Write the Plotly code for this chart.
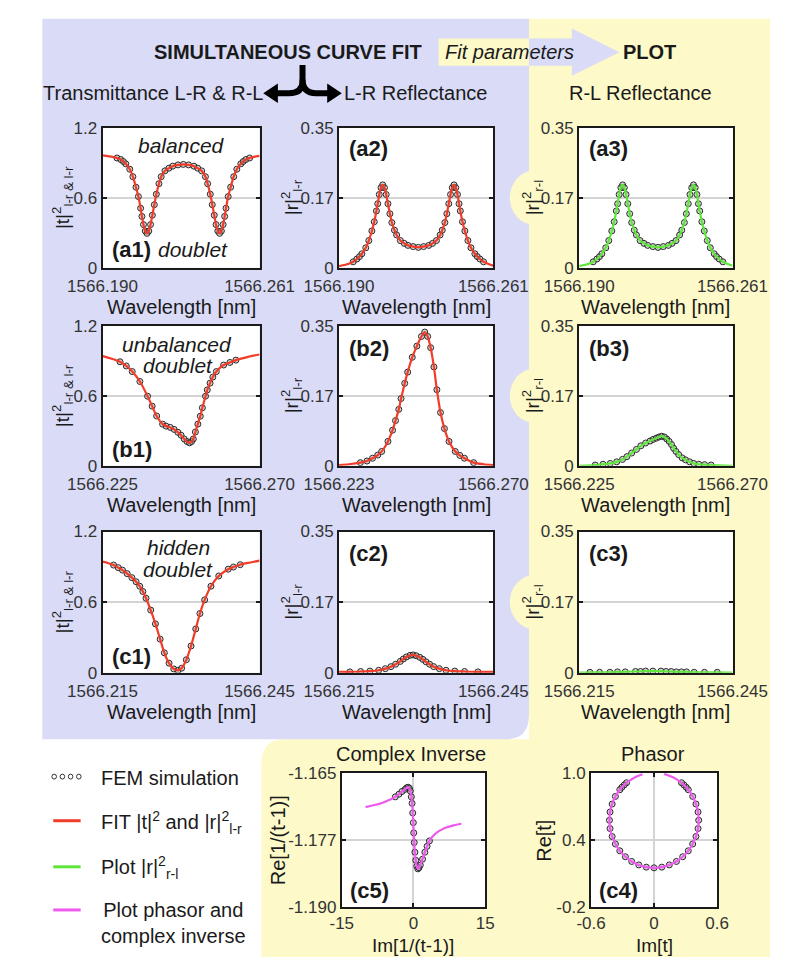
import plotly.graph_objects as go

W, H = 805, 967

# ---------------- data ----------------
# (a) balanced doublet: wavelength [nm], |t|^2, |r|^2 (l-r and r-l identical)
A_WL = [1566.1900, 1566.1945, 1566.1965, 1566.1982, 1566.1994, 1566.2005, 1566.2023, 1566.2037, 1566.2051,
        1566.2062, 1566.2072, 1566.2078, 1566.2085, 1566.2093, 1566.2101, 1566.2109, 1566.2117, 1566.2125,
        1566.2134, 1566.2143, 1566.2155, 1566.2165, 1566.2182, 1566.2200, 1566.2217, 1566.2241, 1566.2265,
        1566.2289, 1566.2313, 1566.2330, 1566.2348, 1566.2365, 1566.2375, 1566.2387, 1566.2396, 1566.2405,
        1566.2413, 1566.2421, 1566.2429, 1566.2437, 1566.2445, 1566.2452, 1566.2458, 1566.2468, 1566.2479,
        1566.2493, 1566.2507, 1566.2525, 1566.2536, 1566.2548, 1566.2565, 1566.2585, 1566.2610]
A_T = [0.963, 0.950, 0.940, 0.927, 0.910, 0.890, 0.844, 0.780, 0.690, 0.610, 0.510, 0.440, 0.370, 0.315,
       0.295, 0.315, 0.370, 0.450, 0.540, 0.630, 0.720, 0.780, 0.830, 0.853, 0.870, 0.881, 0.885,
       0.881, 0.870, 0.853, 0.830, 0.780, 0.720, 0.630, 0.540, 0.450, 0.370, 0.315, 0.295, 0.315, 0.370,
       0.440, 0.510, 0.610, 0.690, 0.780, 0.844, 0.890, 0.910, 0.927, 0.940, 0.950, 0.958]
A_R_LR = [0.004, 0.010, 0.015, 0.022, 0.028, 0.035, 0.050, 0.068, 0.092, 0.115, 0.142, 0.160, 0.183, 0.200,
          0.207, 0.200, 0.183, 0.160, 0.135, 0.113, 0.094, 0.082, 0.068, 0.061, 0.056, 0.053, 0.051,
          0.053, 0.056, 0.061, 0.068, 0.082, 0.094, 0.113, 0.135, 0.160, 0.183, 0.200, 0.207, 0.200, 0.183,
          0.160, 0.142, 0.115, 0.092, 0.068, 0.050, 0.035, 0.028, 0.022, 0.015, 0.010, 0.005]
A_R_RL = [0.004, 0.010, 0.015, 0.022, 0.028, 0.035, 0.050, 0.068, 0.092, 0.115, 0.142, 0.160, 0.183, 0.200,
          0.207, 0.200, 0.183, 0.160, 0.135, 0.113, 0.094, 0.082, 0.068, 0.061, 0.056, 0.053, 0.051,
          0.053, 0.056, 0.061, 0.068, 0.082, 0.094, 0.113, 0.135, 0.160, 0.183, 0.200, 0.207, 0.200, 0.183,
          0.160, 0.142, 0.115, 0.092, 0.068, 0.050, 0.035, 0.028, 0.022, 0.015, 0.010, 0.005]
A_FEM = [1566.1965, 1566.2565]

# (b) unbalanced doublet
B1_WL = [1566.2250, 1566.2274, 1566.2300, 1566.2318, 1566.2335, 1566.2357, 1566.2379, 1566.2392, 1566.2405,
         1566.2422, 1566.2432, 1566.2444, 1566.2455, 1566.2466, 1566.2475, 1566.2484, 1566.2492, 1566.2499,
         1566.2505, 1566.2510, 1566.2516, 1566.2523, 1566.2530, 1566.2536, 1566.2545, 1566.2550, 1566.2558,
         1566.2566, 1566.2576, 1566.2597, 1566.2615, 1566.2632, 1566.2667, 1566.2700]
B1_T = [0.939, 0.919, 0.891, 0.855, 0.807, 0.722, 0.596, 0.511, 0.427, 0.357, 0.340, 0.329, 0.312, 0.287,
        0.262, 0.230, 0.208, 0.197, 0.208, 0.230, 0.290, 0.357, 0.425, 0.497, 0.596, 0.650, 0.708, 0.760,
        0.807, 0.863, 0.885, 0.905, 0.933, 0.953]
B1_FEM = [1566.2300, 1566.2632]
B2_WL = [1566.2230, 1566.2260, 1566.2295, 1566.2315, 1566.2332, 1566.2348, 1566.2360, 1566.2379, 1566.2393,
         1566.2402, 1566.2412, 1566.2419, 1566.2430, 1566.2439, 1566.2453, 1566.2467, 1566.2481, 1566.2491,
         1566.2500, 1566.2509, 1566.2519, 1566.2528, 1566.2539, 1566.2551, 1566.2565, 1566.2584, 1566.2598,
         1566.2612, 1566.2640, 1566.2670, 1566.2700]
B2_R = [0.002, 0.004, 0.008, 0.012, 0.019, 0.027, 0.036, 0.061, 0.089, 0.113, 0.141, 0.168, 0.206, 0.234,
        0.271, 0.299, 0.323, 0.334, 0.323, 0.295, 0.247, 0.190, 0.133, 0.093, 0.061, 0.036, 0.026, 0.019,
        0.008, 0.004, 0.002]
B2_FEM = [1566.2295, 1566.2640]
B3_WL = [1566.2250, 1566.2297, 1566.2320, 1566.2341, 1566.2360, 1566.2377, 1566.2390, 1566.2404, 1566.2418,
         1566.2431, 1566.2445, 1566.2458, 1566.2467, 1566.2476, 1566.2484, 1566.2492, 1566.2500, 1566.2507,
         1566.2514, 1566.2521, 1566.2527, 1566.2534, 1566.2542, 1566.2552, 1566.2562, 1566.2574, 1566.2586,
         1566.2601, 1566.2618, 1566.2637, 1566.2700]
B3_R = [0.000, 0.002, 0.004, 0.006, 0.010, 0.016, 0.023, 0.032, 0.041, 0.050, 0.057, 0.062, 0.066, 0.069,
        0.072, 0.074, 0.072, 0.067, 0.061, 0.053, 0.044, 0.036, 0.028, 0.020, 0.015, 0.010, 0.006, 0.004,
        0.003, 0.002, 0.000]
B3_FEM = [1566.2297, 1566.2637]

# (c) hidden doublet
C1_WL = [1566.2150, 1566.2160, 1566.2171, 1566.2180, 1566.2188, 1566.2197, 1566.2206, 1566.2214, 1566.2221,
         1566.2227, 1566.2233, 1566.2242, 1566.2251, 1566.2260, 1566.2268, 1566.2277, 1566.2286, 1566.2294,
         1566.2301, 1566.2310, 1566.2319, 1566.2328, 1566.2336, 1566.2345, 1566.2357, 1566.2372, 1566.2390,
         1566.2400, 1566.2413, 1566.2430, 1566.2450]
C1_T = [0.944, 0.932, 0.915, 0.893, 0.872, 0.842, 0.808, 0.773, 0.735, 0.690, 0.633, 0.532, 0.415, 0.285,
        0.169, 0.081, 0.032, 0.020, 0.038, 0.110, 0.227, 0.372, 0.503, 0.619, 0.735, 0.822, 0.880, 0.898,
        0.918, 0.935, 0.953]
C1_FEM = [1566.2171, 1566.2413]
C2_WL = [1566.2150, 1566.2171, 1566.2192, 1566.2210, 1566.2227, 1566.2240, 1566.2251, 1566.2260, 1566.2269,
         1566.2275, 1566.2281, 1566.2288, 1566.2294, 1566.2300, 1566.2307, 1566.2313, 1566.2319, 1566.2326,
         1566.2334, 1566.2345, 1566.2358, 1566.2375, 1566.2394, 1566.2420, 1566.2450]
C2_R = [0.002, 0.002, 0.003, 0.004, 0.006, 0.010, 0.015, 0.021, 0.028, 0.034, 0.039, 0.043, 0.044, 0.042,
        0.038, 0.033, 0.027, 0.021, 0.015, 0.010, 0.006, 0.004, 0.003, 0.002, 0.002]
C2_FEM = [1566.2171, 1566.2420]
C3_WL = [1566.2150, 1566.2171, 1566.2190, 1566.2210, 1566.2225, 1566.2240, 1566.2260, 1566.2270, 1566.2280,
         1566.2294, 1566.2310, 1566.2320, 1566.2330, 1566.2340, 1566.2350, 1566.2360, 1566.2375, 1566.2395,
         1566.2420, 1566.2450]
C3_R = [0.000, 0.001, 0.001, 0.001, 0.002, 0.002, 0.003, 0.003, 0.004, 0.004, 0.004, 0.003, 0.003, 0.002,
        0.002, 0.002, 0.001, 0.001, 0.001, 0.000]
C3_FEM = [1566.2171, 1566.2420]

# (c5) complex inverse: Im[1/(t-1)], Re[1/(t-1)]
C5_IM = [-10.03, -8.6, -7.17, -5.9, -4.62, -3.8, -3.03, -2.4, -1.75, -1.4, -1.11, -0.85, -0.67, -0.45,
         -0.29, -0.15, -0.03, 0.06, 0.16, 0.30, 0.48, 0.70, 0.92, 1.15, 1.43, 1.9, 2.39, 2.85, 3.34, 4.1,
         4.94, 5.9, 6.85, 8.4, 10.03]
C5_RE = [-1.1714, -1.1711, -1.1708, -1.1704, -1.1699, -1.1695, -1.1690, -1.1685, -1.1681, -1.1678, -1.1677,
         -1.1679, -1.1684, -1.1695, -1.1707, -1.1725, -1.1743, -1.1762, -1.1780, -1.1798, -1.1813, -1.1824,
         -1.1829, -1.1827, -1.1822, -1.1811, -1.1798, -1.1787, -1.1777, -1.1768, -1.1761, -1.1756, -1.1752,
         -1.1748, -1.1745]
C5_FEM = [-3.8, 3.34]

# (c4) phasor: Im[t], Re[t]
C4_IM = [-0.110, -0.180, -0.244, -0.262, -0.284, -0.306, -0.326, -0.368, -0.399, -0.419, -0.425, -0.419,
         -0.399, -0.368, -0.326, -0.273, -0.213, -0.145, -0.074, 0.000, 0.074, 0.145, 0.213, 0.273, 0.326,
         0.368, 0.399, 0.419, 0.425, 0.419, 0.399, 0.368, 0.326, 0.306, 0.284, 0.262, 0.244, 0.180, 0.096]
C4_RE = [0.986, 0.960, 0.923, 0.910, 0.891, 0.870, 0.848, 0.788, 0.720, 0.649, 0.575, 0.501, 0.430, 0.363,
         0.302, 0.249, 0.207, 0.176, 0.156, 0.150, 0.156, 0.176, 0.207, 0.249, 0.302, 0.363, 0.430, 0.501,
         0.575, 0.649, 0.720, 0.788, 0.848, 0.870, 0.891, 0.910, 0.923, 0.960, 0.989]
C4_FEM_MAX_RE = 0.912

# ---------------- styling ----------------
RED, GREEN, MAGENTA = '#f03c28', '#5fe63a', '#ee5aee'
LAV, YEL = '#d9dbf7', '#fdf9c9'
FONT = 'Arial, Liberation Sans, Helvetica, sans-serif'
INK = '#1a1a1a'


def fx(x):
    return x / W


def fy(y):
    return 1 - y / H


def P(x, y):
    return f'{fx(x):.5f},{fy(y):.5f}'


COLX = {1: (74, 246), 2: (333, 502), 3: (596, 764)}
ROWY = {'a': (121, 264), 'b': (323, 466), 'c': (533, 677)}
C5_BOX = (336, 493, 779, 916)
C4_BOX = (609, 747, 779, 916)

R_TICKS = ([0, 0.175, 0.35], ['0', '0.17', '0.35'])
T_TICKS = ([0, 0.6, 1.2], ['0', '0.6', '1.2'])

panels = [
    dict(box=(*COLX[1], *ROWY['a']), x=A_WL, y=A_T, fem=A_FEM, col=RED, xr=(1566.190, 1566.261), yk=T_TICKS, yr=(0, 1.2)),
    dict(box=(*COLX[2], *ROWY['a']), x=A_WL, y=A_R_LR, fem=A_FEM, col=RED, xr=(1566.190, 1566.261), yk=R_TICKS, yr=(0, 0.35)),
    dict(box=(*COLX[3], *ROWY['a']), x=A_WL, y=A_R_RL, fem=A_FEM, col=GREEN, xr=(1566.190, 1566.261), yk=R_TICKS, yr=(0, 0.35)),
    dict(box=(*COLX[1], *ROWY['b']), x=B1_WL, y=B1_T, fem=B1_FEM, col=RED, xr=(1566.225, 1566.270), yk=T_TICKS, yr=(0, 1.2)),
    dict(box=(*COLX[2], *ROWY['b']), x=B2_WL, y=B2_R, fem=B2_FEM, col=RED, xr=(1566.223, 1566.270), yk=R_TICKS, yr=(0, 0.35)),
    dict(box=(*COLX[3], *ROWY['b']), x=B3_WL, y=B3_R, fem=B3_FEM, col=GREEN, xr=(1566.225, 1566.270), yk=R_TICKS, yr=(0, 0.35)),
    dict(box=(*COLX[1], *ROWY['c']), x=C1_WL, y=C1_T, fem=C1_FEM, col=RED, xr=(1566.215, 1566.245), yk=T_TICKS, yr=(0, 1.2)),
    dict(box=(*COLX[2], *ROWY['c']), x=C2_WL, y=C2_R, fem=C2_FEM, col=RED, xr=(1566.215, 1566.245), yk=R_TICKS, yr=(0, 0.35)),
    dict(box=(*COLX[3], *ROWY['c']), x=C3_WL, y=C3_R, fem=C3_FEM, col=GREEN, xr=(1566.215, 1566.245), yk=R_TICKS, yr=(0, 0.35)),
]

fig = go.Figure()
layout_axes = {}
shapes = []
annotations = []


def axis_base():
    return dict(showline=True, linecolor=INK, linewidth=2, mirror='ticks', ticks='inside', ticklen=4,
                tickwidth=2, tickcolor=INK, tickfont=dict(family=FONT, size=17, color='#333333'),
                zeroline=False, fixedrange=True, tickmode='array', ticklabeloverflow='allow')


def add_axes(i, box, xr, xvals, xtext, yr, yvals, ytext, xgrid, standoff=2):
    x0, x1, y0, y1 = box
    xa = axis_base()
    xa.update(domain=[fx(x0), fx(x1)], range=list(xr), tickvals=xvals, ticktext=xtext,
              showgrid=xgrid, gridcolor='#d4d4d4', gridwidth=2, anchor=f'y{i}', ticklabelstandoff=standoff)
    ya = axis_base()
    ya.update(domain=[fy(y1), fy(y0)], range=list(yr), tickvals=yvals, ticktext=ytext,
              showgrid=True, gridcolor='#d4d4d4', gridwidth=2, anchor=f'x{i}')
    layout_axes['xaxis' if i == 1 else f'xaxis{i}'] = xa
    layout_axes['yaxis' if i == 1 else f'yaxis{i}'] = ya


MARKER = dict(symbol='circle', size=6, color='rgba(160,160,160,0.45)', line=dict(color='#2a2a2a', width=1))

for i, p in enumerate(panels, start=1):
    xr = p['xr']
    add_axes(i, p['box'], xr, [xr[0], xr[1]], [f'{xr[0]:.3f}', f'{xr[1]:.3f}'],
             p['yr'], p['yk'][0], p['yk'][1], False)
    ref_x = 'x' if i == 1 else f'x{i}'
    ref_y = 'y' if i == 1 else f'y{i}'
    lo, hi = p['fem']
    fx_pts = [(a, b) for a, b in zip(p['x'], p['y']) if lo <= a <= hi]
    fig.add_trace(go.Scatter(x=[q[0] for q in fx_pts], y=[q[1] for q in fx_pts], mode='markers',
                             marker=MARKER, xaxis=ref_x, yaxis=ref_y, showlegend=False, hoverinfo='skip'))
    fig.add_trace(go.Scatter(x=p['x'], y=p['y'], mode='lines', line=dict(color=p['col'], width=2.2, shape='spline', smoothing=0.7),
                             xaxis=ref_x, yaxis=ref_y, showlegend=False, hoverinfo='skip'))

# (c5) complex inverse
add_axes(10, C5_BOX, (-15, 15), [-15, 0, 15], ['-15', '0', '15'],
         (-1.190, -1.165), [-1.190, -1.1775, -1.165], ['-1.190', '-1.177', '-1.165'], True, standoff=0)
pts = [(a, b) for a, b in zip(C5_IM, C5_RE) if C5_FEM[0] <= a <= C5_FEM[1]]
fig.add_trace(go.Scatter(x=[q[0] for q in pts], y=[q[1] for q in pts], mode='markers', marker=MARKER,
                         xaxis='x10', yaxis='y10', showlegend=False, hoverinfo='skip'))
fig.add_trace(go.Scatter(x=C5_IM, y=C5_RE, mode='lines', line=dict(color=MAGENTA, width=2.2, shape='spline', smoothing=0.7),
                         xaxis='x10', yaxis='y10', showlegend=False, hoverinfo='skip'))

# (c4) phasor
add_axes(11, C4_BOX, (-0.6, 0.6), [-0.6, 0, 0.6], ['-0.6', '0', '0.6'],
         (-0.2, 1.0), [-0.2, 0.4, 1.0], ['-0.2', '0.4', '1.0'], True, standoff=0)
pts = [(a, b) for a, b in zip(C4_IM, C4_RE) if b <= C4_FEM_MAX_RE]
fig.add_trace(go.Scatter(x=[q[0] for q in pts], y=[q[1] for q in pts], mode='markers', marker=MARKER,
                         xaxis='x11', yaxis='y11', showlegend=False, hoverinfo='skip'))
fig.add_trace(go.Scatter(x=C4_IM, y=C4_RE, mode='lines', line=dict(color=MAGENTA, width=2.2, shape='spline', smoothing=0.7),
                         xaxis='x11', yaxis='y11', showlegend=False, hoverinfo='skip'))


# ---------------- background decoration ----------------
def pshape(path, fill):
    return dict(type='path', xref='paper', yref='paper', layer='below', path=path, fillcolor=fill,
                line=dict(width=0))


shapes.append(pshape(f'M {P(541,10)} L {P(805,10)} L {P(805,967)} L {P(248,967)} L {P(248,770)} '
                     f'Q {P(248,745)} {P(273,745)} L {P(541,745)} Z', YEL))
shapes.append(pshape(f'M {P(8,10)} L {P(541,10)} L {P(541,720)} Q {P(541,745)} {P(516,745)} L {P(8,745)} Z', LAV))
for cy in (192.5, 394.5, 605):
    shapes.append(dict(type='circle', xref='paper', yref='paper', layer='below', fillcolor=YEL,
                       line=dict(width=0), x0=fx(520), x1=fx(576), y0=fy(cy + 28), y1=fy(cy - 28)))
# "Fit parameters" box and arrow
shapes.append(pshape(f'M {P(442,30)} L {P(541,30)} L {P(541,58)} L {P(442,58)} Z', YEL))
shapes.append(pshape(f'M {P(541,30)} L {P(588,30)} L {P(588,20)} L {P(640,44)} L {P(588,68)} L {P(588,58)} L {P(541,58)} Z', LAV))
# curly split arrow
shapes.append(dict(type='path', xref='paper', yref='paper', layer='above', line=dict(color='black', width=6),
                   path=f'M {P(293,57)} L {P(293,74)} Q {P(293,86)} {P(278,86)} L {P(264,86)}'))
shapes.append(dict(type='path', xref='paper', yref='paper', layer='above', line=dict(color='black', width=6),
                   path=f'M {P(293,72)} Q {P(293,86)} {P(308,86)} L {P(322,86)}'))
shapes.append(dict(type='path', xref='paper', yref='paper', layer='above', line=dict(width=0), fillcolor='black',
                   path=f'M {P(266,76)} L {P(250,86)} L {P(266,96)} Z'))
shapes.append(dict(type='path', xref='paper', yref='paper', layer='above', line=dict(width=0), fillcolor='black',
                   path=f'M {P(320,76)} L {P(336,86)} L {P(320,96)} Z'))
# white plot areas
for (x0, x1, y0, y1) in [p['box'] for p in panels] + [C5_BOX, C4_BOX]:
    shapes.append(dict(type='rect', xref='paper', yref='paper', layer='below', fillcolor='white', line=dict(width=0),
                       x0=fx(x0), x1=fx(x1), y0=fy(y1), y1=fy(y0)))

# legend symbols
for cx in (21, 30, 39, 48):
    shapes.append(dict(type='circle', xref='paper', yref='paper', layer='above', fillcolor='white',
                       line=dict(color='#333333', width=1), x0=fx(cx - 2.5), x1=fx(cx + 2.5), y0=fy(785.5), y1=fy(780.5)))
for yy, c in ((828, RED), (875, GREEN), (919, MAGENTA)):
    shapes.append(dict(type='line', xref='paper', yref='paper', layer='above', line=dict(color=c, width=3),
                       x0=fx(20), x1=fx(50), y0=fy(yy), y1=fy(yy)))


# ---------------- text ----------------
def ann(text, x, y, size=20, xanchor='center', angle=0, color=INK):
    annotations.append(dict(text=text, x=fx(x), y=fy(y), xref='paper', yref='paper', showarrow=False,
                            xanchor=xanchor, yanchor='middle', textangle=angle,
                            font=dict(family=FONT, size=size, color=color)))


ann('<b>SIMULTANEOUS CURVE FIT</b>', 277, 44, 20)
ann('<i>Fit parameters</i>', 520, 44, 20)
ann('<b>PLOT</b>', 673, 44, 20)
ann('Transmittance L-R &amp; R-L', 129, 86, 20)
ann('L-R Reflectance', 417, 86, 20)
ann('R-L Reflectance', 663, 86, 20)

for (y0, y1) in ROWY.values():
    mid = (y0 + y1) / 2
    ann('|t|<sup>2</sup><sub>l-r &amp; l-r</sub>', 30, mid, 19, angle=-90)
    ann('|r|<sup>2</sup><sub>l-r</sub>', 281, mid, 19, angle=-90)
    ann('|r|<sup>2</sup><sub>r-l</sub>', 545, mid, 19, angle=-90)
    for c in (1, 2, 3):
        x0, x1 = COLX[c]
        ann('Wavelength [nm]', (x0 + x1) / 2, y1 + 40, 20)

# panel labels
ann('<b>(a1)</b>', 82, 245, 22, 'left')
ann('<i>doublet</i>', 132, 245, 21, 'left')
ann('<i>balanced</i>', 160, 139, 21)
ann('<b>(a2)</b>', 342, 142, 22, 'left')
ann('<b>(a3)</b>', 605, 142, 22, 'left')
ann('<b>(b1)</b>', 82, 449, 22, 'left')
ann('<i>unbalanced</i>', 155, 342, 21)
ann('<i>doublet</i>', 157, 364, 21)
ann('<b>(b2)</b>', 342, 346, 22, 'left')
ann('<b>(b3)</b>', 605, 346, 22, 'left')
ann('<b>(c1)</b>', 82, 660, 22, 'left')
ann('<i>hidden</i>', 157, 549, 21)
ann('<i>doublet</i>', 157, 572, 21)
ann('<b>(c2)</b>', 342, 555, 22, 'left')
ann('<b>(c3)</b>', 605, 555, 22, 'left')
ann('<b>(c5)</b>', 343, 899, 22, 'left')
ann('<b>(c4)</b>', 616, 899, 22, 'left')

ann('Complex Inverse', 412, 760, 20)
ann('Phasor', 677, 760, 20)
ann('Re[1/(t-1)]', 266, 848, 20, angle=-90)
ann('Im[1/(t-1)]', 414, 955, 19)
ann('Re[t]', 558, 848, 20, angle=-90)
ann('Im[t]', 678, 955, 19)

# legend texts
ann('FEM simulation', 70, 784, 20, 'left')
ann('FIT |t|<sup>2</sup> and |r|<sup>2</sup><sub>l-r</sub>', 70, 830, 20, 'left')
ann('Plot |r|<sup>2</sup><sub>r-l</sub>', 70, 876, 20, 'left')
ann('Plot phasor and<br>complex inverse', 70, 932, 20, 'left')

fig.update_layout(width=W, height=H, margin=dict(l=0, r=0, t=0, b=0), paper_bgcolor='white',
                  plot_bgcolor='white', showlegend=False, shapes=shapes, annotations=annotations,
                  font=dict(family=FONT, color=INK), **layout_axes)

fig.write_html('out.html', config={'displayModeBar': False})
